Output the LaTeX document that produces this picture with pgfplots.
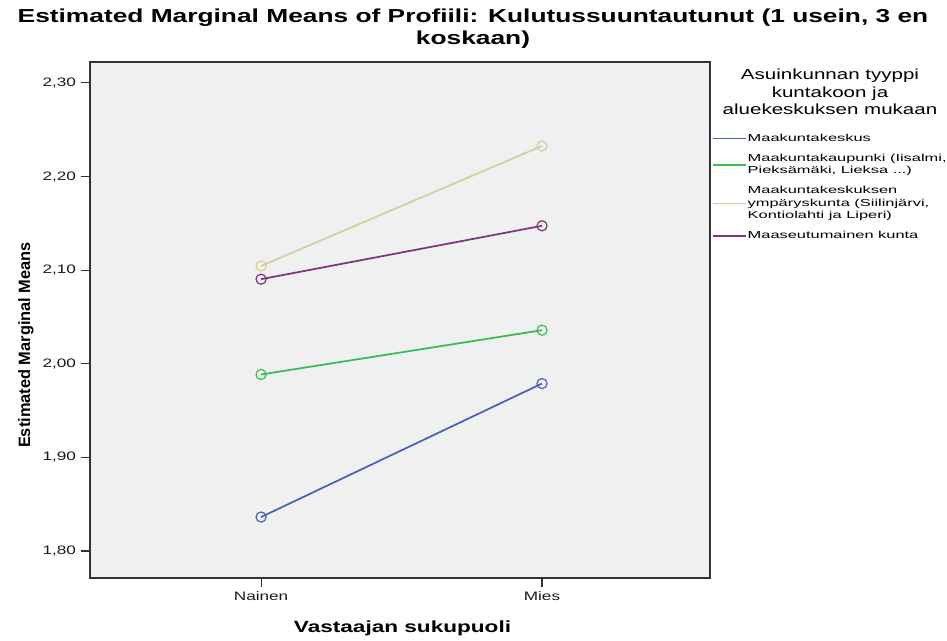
\documentclass[border=0pt]{standalone}
\usepackage{fontspec}
\setmainfont{Liberation Sans}[FakeStretch=1.4]
\newfontfamily\plainfont{Liberation Sans}
\newfontfamily\legfont{Liberation Sans}[FakeStretch=1.62]
\usepackage{pgfplots}
\pgfplotsset{compat=1.18}
\definecolor{c1}{RGB}{70,98,186}
\definecolor{c2}{RGB}{56,190,80}
\definecolor{c3}{RGB}{214,208,150}
\definecolor{c4}{RGB}{130,50,132}
\definecolor{bg}{RGB}{240,240,240}
\begin{document}
\begin{tikzpicture}
\useasboundingbox (-67.5pt,-47.25pt) rectangle (642.75pt,433.5pt);
\begin{axis}[
  at={(0pt,0pt)}, anchor=south west,
  scale only axis, width=465pt, height=387pt,
  xmin=-0.609, xmax=1.598, ymin=1.7712, ymax=2.3224,
  axis background/.style={fill=bg},
  axis line style={black!80, line width=0.8pt},
  xtick={0,1}, xticklabels={Nainen,Mies},
  ytick={1.8,1.9,2.0,2.1,2.2,2.3},
  tick pos=left, tick align=outside, major tick length=7pt,
  tick style={black!80, line width=0.8pt},
  yticklabel style={/pgf/number format/.cd, fixed, fixed zerofill, precision=2, use comma, assume math mode=true},
  ticklabel style={font=\fontsize{9.2}{11}\selectfont},
  every tick label/.append style={text=black!90},
  legend style={at={(1.003,0.864)}, anchor=north west, draw=none, fill=none,
    inner sep=0pt, row sep=6pt,
    font=\legfont\fontsize{7.6}{9.4}\selectfont,
    nodes={align=left, inner sep=1pt}},
  legend cell align=left,
  legend image code/.code={\draw[#1, line width=1.2pt] (0pt,0pt) -- (24.5pt,0pt);},
  every axis plot/.append style={line width=1.3pt, mark=o, mark size=3.8pt, mark options={line width=0.9pt}},
]
\addplot[c1] coordinates {(0,1.8363) (1,1.9789)};
\addlegendentry{Maakuntakeskus}
\addplot[c2] coordinates {(0,1.9886) (1,2.0359)};
\addlegendentry{Maakuntakaupunki (Iisalmi,\\Pieksämäki, Lieksa ...)}
\addplot[c3] coordinates {(0,2.1045) (1,2.2327)};
\addlegendentry{Maakuntakeskuksen\\ympäryskunta (Siilinjärvi,\\Kontiolahti ja Liperi)}
\addplot[c4] coordinates {(0,2.0904) (1,2.1474)};
\addlegendentry{Maaseutumainen kunta}
\end{axis}
\node[align=center, font=\bfseries\fontsize{14.1}{16.5}\selectfont] at (287.25pt,411.75pt)
  {Estimated Marginal Means of Profiili: Kulutussuuntautunut (1 usein, 3 en\\koskaan)};
\node[rotate=90, font=\plainfont\bfseries\fontsize{12.3}{14}\selectfont] at (-48pt,174.75pt) {Estimated Marginal Means};
\node[font=\bfseries\fontsize{12.1}{14}\selectfont] at (234.4pt,-37.5pt) {Vastaajan sukupuoli};
\node[align=center, font=\fontsize{11}{13.1}\selectfont] at (555pt,364.5pt)
  {Asuinkunnan tyyppi\\kuntakoon ja\\aluekeskuksen mukaan};
\end{tikzpicture}
\end{document}
